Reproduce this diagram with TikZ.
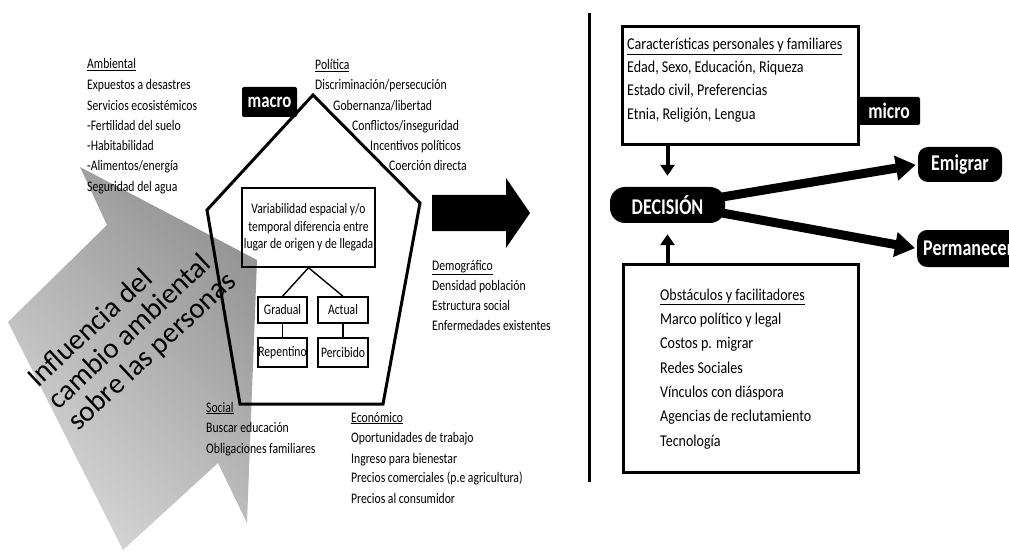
\documentclass[tikz,border=0pt]{standalone}
\usepackage{fontspec}
\setmainfont{Carlito}
\newfontfamily\narrowfont{Carlito}[FakeStretch=0.8]
\newfontfamily\midfont{Carlito}[FakeStretch=0.85]
\usetikzlibrary{arrows.meta}
\begin{document}
\begin{tikzpicture}[x=1pt,y=-1pt,
  lt/.style={font=\narrowfont\fontsize{14.6}{16}\selectfont, anchor=base west, inner sep=0pt},
  rt/.style={font=\midfont\fontsize{16.5}{18}\selectfont, anchor=base west, inner sep=0pt},
  sbox/.style={draw, line width=1.4pt, inner sep=0pt, font=\narrowfont\fontsize{14.5}{16}\selectfont},
  blk/.style={fill=black, text=white, inner sep=0pt},
  bigbox/.style={draw, line width=3pt, inner sep=0pt},
  fatarrow/.style={line width=9pt, -{Triangle[length=20pt,width=24pt]}, shorten >=2pt},
  vertarrow/.style={line width=4pt, -{Triangle[length=11pt,width=14pt]}},
  treeline/.style={line width=1.4pt}
]
\useasboundingbox (0,0) rectangle (1009,556);

% gray influence arrow
\shade[top color=black!42, bottom color=black!16, shading angle=-45]
  (80,167) -- (257,260) -- (247,523) -- (218,463) -- (123,550) -- (8,322) -- (107,225) -- cycle;
\node[rotate=43, align=left, font=\fontsize{29}{29.5}\selectfont, inner sep=0pt] (infl) at (132.5,330.5)
  {Influencia del\\cambio ambiental\\sobre las personas};

% Ambiental
\node[lt] (amb0) at (87,69) {\underline{Ambiental}};
\node[lt] (amb1) at (87,90) {Expuestos a desastres};
\node[lt] (amb2) at (87,111) {Servicios ecosistémicos};
\node[lt] (amb3) at (87,131) {-Fertilidad del suelo};
\node[lt] (amb4) at (87,151) {-Habitabilidad};
\node[lt] (amb5) at (87,171) {-Alimentos/energía};
\node[lt] (amb6) at (87,192) {Seguridad del agua};

% Politica
\node[lt] (pol0) at (315,70) {\underline{Política}};
\node[lt] (pol1) at (315,90) {Discriminación/persecución};
\node[lt] (pol2) at (333,111) {Gobernanza/libertad};
\node[lt] (pol3) at (352,131) {Conflictos/inseguridad};
\node[lt] (pol4) at (370,151) {Incentivos políticos};
\node[lt] (pol5) at (389,171) {Coerción directa};

% Demografico
\node[lt] (dem0) at (432,270) {\underline{Demográfico}};
\node[lt] (dem1) at (432,290) {Densidad población};
\node[lt] (dem2) at (432,310) {Estructura social};
\node[lt] (dem3) at (432,330) {Enfermedades existentes};

% Social
\node[lt] (soc0) at (206,412) {\underline{Social}};
\node[lt] (soc1) at (206,432) {Buscar educación};
\node[lt] (soc2) at (206,453) {Obligaciones familiares};

% Economico
\node[lt] (eco0) at (351,422) {\underline{Económico}};
\node[lt] (eco1) at (351,442) {Oportunidades de trabajo};
\node[lt] (eco2) at (351,463) {Ingreso para bienestar};
\node[lt] (eco3) at (351,482) {Precios comerciales (p.e agricultura)};
\node[lt] (eco4) at (351,503) {Precios al consumidor};

% pentagon
\draw[line width=3pt, line join=miter] (313,95) -- (420,203) -- (383,404) -- (240,404) -- (207,210) -- cycle;

% macro label
\node[blk, font=\narrowfont\bfseries\fontsize{21}{22}\selectfont, minimum width=55pt, minimum height=30pt, rounded corners=2pt] (macro) at (269.5,102) {macro};

% inner tree
\node[sbox, minimum width=133pt, minimum height=79pt, align=center, font=\narrowfont\fontsize{14.5}{17.5}\selectfont] (var) at (308.5,227.5)
  {Variabilidad espacial y/o\\temporal diferencia entre\\lugar de origen y de llegada};
\node[sbox, minimum width=49pt, minimum height=26pt] (gra) at (282.5,310) {Gradual};
\node[sbox, minimum width=50pt, minimum height=26pt] (act) at (343,310) {Actual};
\node[sbox, minimum width=49pt, minimum height=29pt] (rep) at (282.5,352.5) {Repentino};
\node[sbox, minimum width=50pt, minimum height=29pt] (per) at (343,352.5) {Percibido};
\draw[treeline] (var.south) -- (gra.north);
\draw[treeline] (var.south) -- (act.north);
\draw[treeline] (gra.south) -- (rep.north);
\draw[treeline] (act.south) -- (per.north);

% big black arrow
\fill (432,195) -- (506,195) -- (506,178) -- (530,213) -- (506,248) -- (506,231) -- (432,231) -- cycle;

% divider
\draw[line width=3pt] (589,13) -- (589,482);

% right side
\node[bigbox, minimum width=236pt, minimum height=118pt] (car) at (740,86) {};
\node[rt] (car0) at (627,50) {\underline{Características personales y familiares}};
\node[rt] (car1) at (627,73) {Edad, Sexo, Educación, Riqueza};
\node[rt] (car2) at (627,96) {Estado civil, Preferencias};
\node[rt] (car3) at (627,120) {Etnia, Religión, Lengua};

\node[blk, font=\narrowfont\bfseries\fontsize{22}{24}\selectfont, minimum width=62pt, minimum height=28pt, rounded corners=2pt] (micro) at (889,111) {micro};

\node[bigbox, minimum width=235pt, minimum height=208pt] (obs) at (740.5,368) {};
\node[rt] (obs0) at (660,300) {\underline{Obstáculos y facilitadores}};
\node[rt] (obs1) at (660,324) {Marco político y legal};
\node[rt] (obs2) at (660,348) {Costos p. migrar};
\node[rt] (obs3) at (660,373) {Redes Sociales};
\node[rt] (obs4) at (660,397) {Vínculos con diáspora};
\node[rt] (obs5) at (660,421) {Agencias de reclutamiento};
\node[rt] (obs6) at (660,446) {Tecnología};

\node[blk, font=\narrowfont\bfseries\fontsize{22.5}{24}\selectfont, minimum width=115pt, minimum height=36pt, rounded corners=15pt] (dec) at (667.5,205) {DECISIÓN};
\node[blk, font=\narrowfont\bfseries\fontsize{22.5}{24}\selectfont, minimum width=84pt, minimum height=35pt, rounded corners=10pt] (emi) at (960,164.5) {Emigrar};
\node[blk, font=\narrowfont\bfseries\fontsize{22.5}{24}\selectfont, minimum height=37pt, inner xsep=6pt, rounded corners=10pt, anchor=west] (perm) at (917,248.5) {Permanecer};

\draw[vertarrow] (car.south -| dec.north) -- ([yshift=11pt]dec.north);
\draw[vertarrow] (obs.north -| dec.south) -- ([yshift=-11pt]dec.south);
\draw[fatarrow] ([shift={(-3,-8)}]dec.east) -- (emi.west);
\draw[fatarrow] ([shift={(-3,8)}]dec.east) -- (perm.west);
\end{tikzpicture}
\end{document}
